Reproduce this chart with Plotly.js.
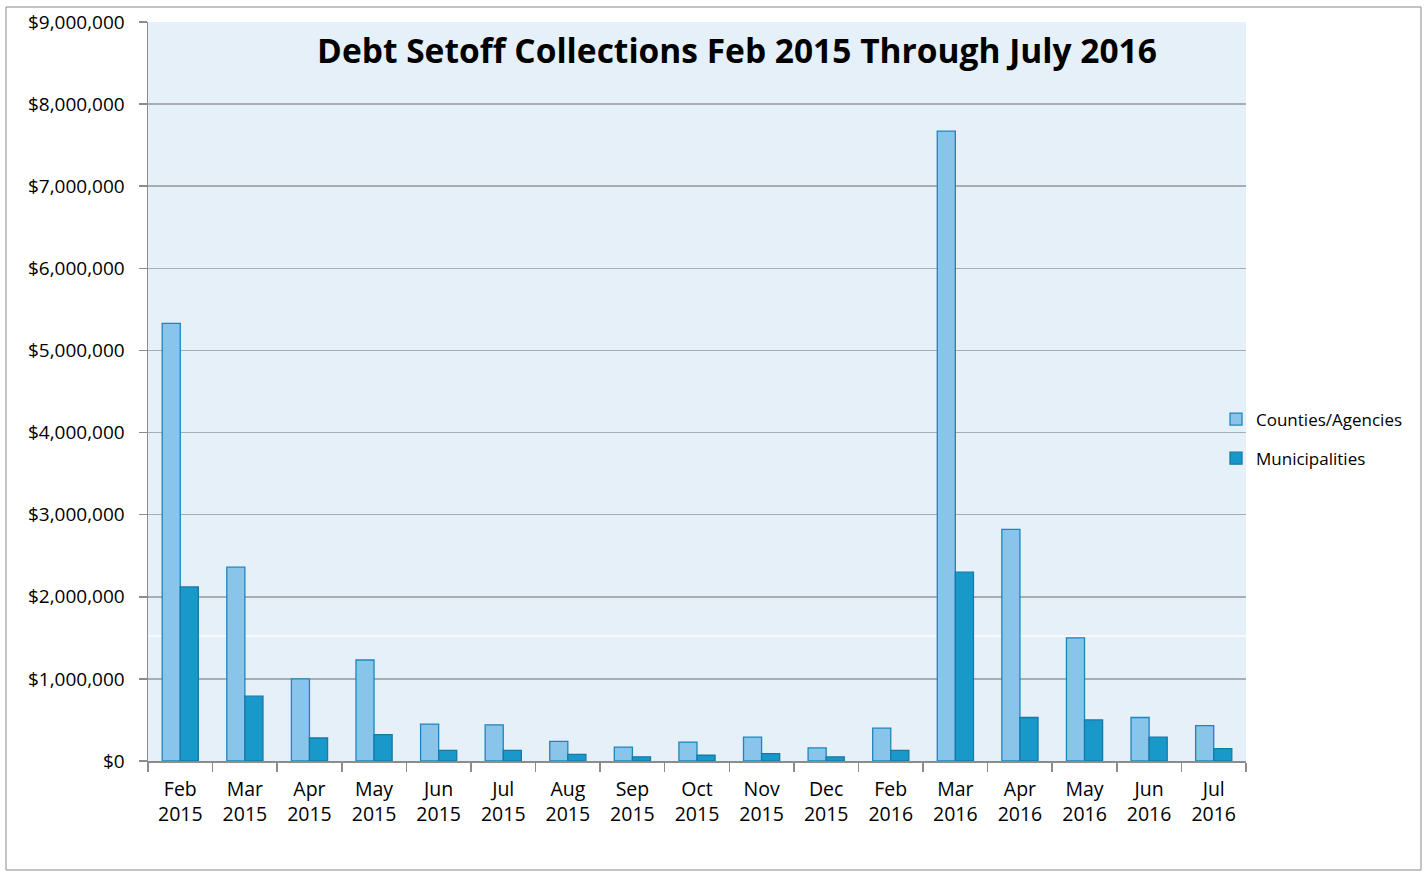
<!DOCTYPE html>
<html><head><meta charset="utf-8">
<script src="https://cdn.plot.ly/plotly-3.0.1.min.js"></script>
<style>html,body{margin:0;padding:0;background:#fff}#chart{width:1424px;height:872px}</style>
</head><body><div id="chart"></div>
<script>
const categories = ["Feb<br>2015","Mar<br>2015","Apr<br>2015","May<br>2015","Jun<br>2015","Jul<br>2015","Aug<br>2015","Sep<br>2015","Oct<br>2015","Nov<br>2015","Dec<br>2015","Feb<br>2016","Mar<br>2016","Apr<br>2016","May<br>2016","Jun<br>2016","Jul<br>2016"];
const countiesAgencies = [5330000,2360000,1000000,1230000,450000,440000,240000,170000,230000,290000,160000,400000,7670000,2820000,1500000,530000,430000];
const municipalities = [2120000,790000,280000,320000,130000,130000,80000,50000,70000,90000,50000,130000,2300000,530000,500000,290000,150000];
const yTickVals = [0,1000000,2000000,3000000,4000000,5000000,6000000,7000000,8000000,9000000];
const yTickText = ["$0","$1,000,000","$2,000,000","$3,000,000","$4,000,000","$5,000,000","$6,000,000","$7,000,000","$8,000,000","$9,000,000"];
const bandLine = 1520000;

const F = "Open Sans, Noto Sans, Liberation Sans, sans-serif";
const L=148, R=1246, T=22, B=761, W=1424, H=872;
const pw=R-L, ph=B-T;
const px = v => (v-L)/pw;
const py = v => (B-v)/ph;

const traces = [
 {type:'bar', name:'Counties/Agencies', legendgroup:'a', x:categories, y:countiesAgencies,
  marker:{color:'#89C4EA', line:{color:'#1F86BA', width:1.3}}},
 {type:'bar', name:'Municipalities', legendgroup:'b', x:categories, y:municipalities,
  marker:{color:'#1899CA', line:{color:'#1679A8', width:1.3}}}
];

const layout = {
 width:W, height:H,
 margin:{l:L, r:W-R, t:T, b:H-B, pad:0},
 paper_bgcolor:'#ffffff', plot_bgcolor:'#E5F0F9',
 font:{family:F, size:18, color:'#000'},
 barmode:'group', bargap:0.44, bargroupgap:0,
 title:{text:'<b>Debt Setoff Collections Feb 2015 Through July 2016</b>',
   font:{family:F, size:33.5, color:'#000'},
   xref:'paper', x:px(737), xanchor:'center', yref:'container', y:1-51/H, yanchor:'middle'},
 xaxis:{type:'category', tickson:'boundaries', ticks:'outside', ticklen:9, tickcolor:'#8c8c8c', tickwidth:1.5,
   showline:true, linecolor:'#8c8c8c', linewidth:1.5, showgrid:false, ticklabelstandoff:10,
   tickfont:{family:F, size:19.5, color:'#000'}, automargin:false},
 yaxis:{range:[0,9000000], tickvals:yTickVals, ticktext:yTickText, ticks:'outside', ticklen:8,
   tickcolor:'#8c8c8c', tickwidth:1.5, showline:true, linecolor:'#8c8c8c', linewidth:1.5,
   showgrid:true, gridcolor:'#A9ADB2', gridwidth:1.6, zeroline:false, ticklabelstandoff:10,
   tickfont:{family:F, size:19, color:'#000'}, automargin:false},
 legend:{x:px(1216), xanchor:'left', y:py(439), yanchor:'middle', bgcolor:'rgba(0,0,0,0)',
   font:{family:F, size:17, color:'#000'}, tracegroupgap:14, itemwidth:30, traceorder:'grouped'},
 shapes:[
  {type:'line', xref:'paper', yref:'y', x0:0, x1:1, y0:bandLine, y1:bandLine, line:{color:'#ffffff', width:1.2}, layer:'below'},
  {type:'rect', xref:'paper', yref:'paper', x0:px(6), x1:px(1421), y0:py(870), y1:py(7), line:{color:'#8a8a8a', width:1}, fillcolor:'rgba(0,0,0,0)'}
 ],
 showlegend:true
};
Plotly.newPlot('chart', traces, layout, {displayModeBar:false, staticPlot:true});
</script></body></html>
